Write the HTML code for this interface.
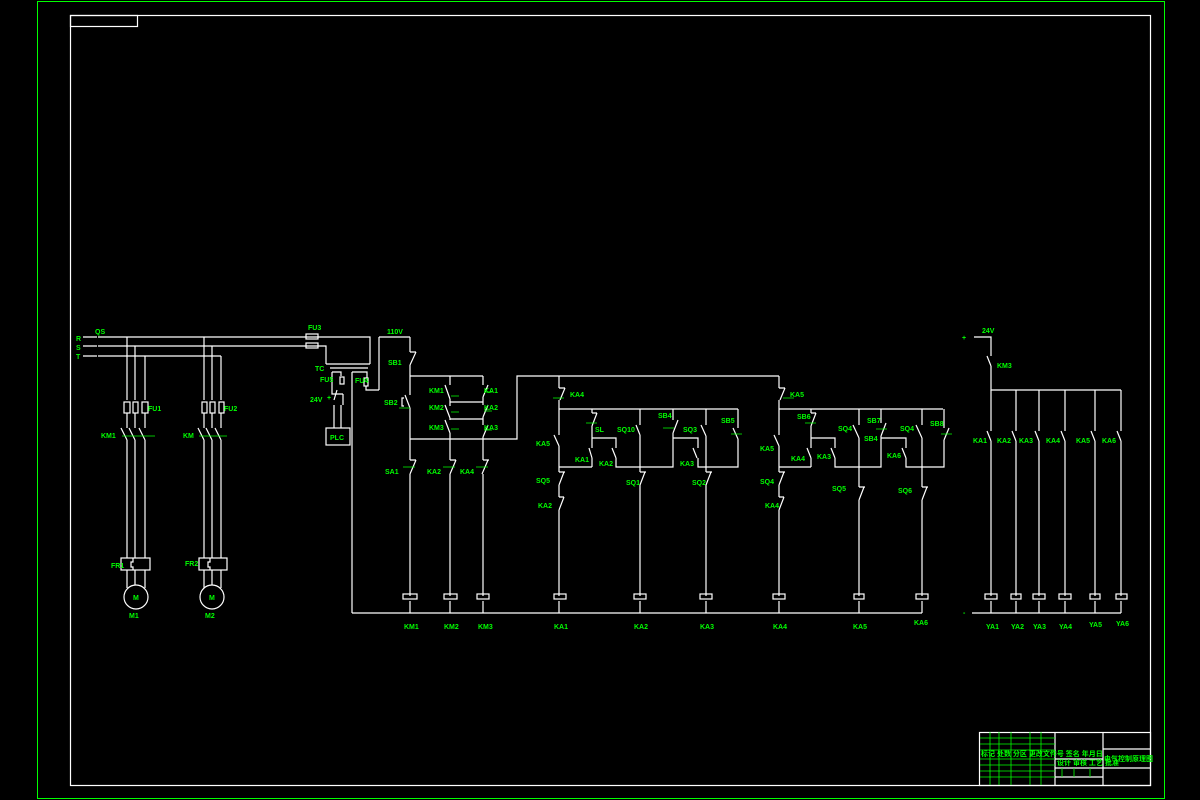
<!DOCTYPE html>
<html><head><meta charset="utf-8"><style>
html,body{margin:0;padding:0;background:#000;}
svg{display:block}
text{font-family:"Liberation Sans","Noto Sans CJK SC",sans-serif;fill:#00ff00;font-weight:bold;font-size:7px}
</style></head><body>
<svg width="1200" height="800" viewBox="0 0 1200 800" xmlns="http://www.w3.org/2000/svg">
<rect width="1200" height="800" fill="#000"/>
<rect x="37.5" y="1.5" width="1127" height="797" fill="none" stroke="#00ff00" stroke-width="1"/>
<g stroke="#fff" stroke-width="1.2" fill="none">
<rect x="70.5" y="15.5" width="1080" height="770"/>
<rect x="70.5" y="15.5" width="67" height="11"/>
<path d="M98 337H370V364 M98 346H326V364 M98 356H221"/>
<path d="M83 337h14 M83 346h14 M83 356h14"/>
<rect x="306" y="334" width="12" height="5"/><rect x="306" y="343" width="12" height="5"/>
<path d="M127 337V400 M135 346V400 M145 356V400"/>
<rect x="124" y="402" width="6" height="11"/><rect x="133" y="402" width="5" height="11"/><rect x="142" y="402" width="6" height="11"/>
<path d="M127 413V428 M135 413V428 M145 413V428 M121 428l6 12 M129 428l6 12 M139 428l6 12 M127 440V558 M135 440V558 M145 440V558"/>
<rect x="121" y="558" width="29" height="12"/>
<path d="M133 558v4h-2v5h2v3"/>
<path d="M127 570V588 M135 570V585 M145 570V588"/>
<circle cx="136" cy="597" r="12"/>
<path d="M204 337V400 M212 346V400 M221 356V400"/>
<rect x="202" y="402" width="5" height="11"/><rect x="210" y="402" width="5" height="11"/><rect x="219" y="402" width="5" height="11"/>
<path d="M204 413V428 M212 413V428 M221 413V428 M198 428l6 12 M206 428l6 12 M215 428l6 12 M204 440V558 M212 440V558 M221 440V558"/>
<rect x="199" y="558" width="28" height="12"/>
<path d="M210 558v4h-2v5h2v3"/>
<path d="M204 570V588 M212 570V585 M221 570V588"/>
<circle cx="212" cy="597" r="12"/>
<path d="M326 364H370 M330 368H368 M332 372H341V376 M352 372H367V378 M332 372V394H343"/>
<rect x="340" y="377" width="4" height="7"/><rect x="364" y="378" width="4" height="8"/>
<path d="M366 386V390H379 M352 372V613 M379 337H410"/>
<path d="M379 337V390"/>
<rect x="326" y="428" width="24" height="17"/>
<path d="M334 405V428 M341 405V428 M337 390l-3 10 M343 394V405"/>
<path d="M410 337V352 M416 352l-6 13 M410 352h6 M410 365V395 M405 395l5 13 M410 408V460 M416 460l-6 14 M410 460h6 M410 474V596 M410 601V613"/>
<path d="M404 398h-2v8h2"/>
<path d="M410 376H483 M410 439H517V376H779"/>
<path d="M450 376V385 M445 385l5 14 M450 399V406 M450 402H483 M445 405l5 13 M450 418V420 M450 419H483 M445 420l5 13 M450 433V460 M456 460l-6 14 M450 460h6 M450 474V596 M450 601V613"/>
<path d="M483 376V385 M488 385l-5 12 M483 397V405 M488 405l-5 12 M483 417V425 M488 425l-5 12 M483 437V460 M488 460l-6 14 M483 460h6 M483 474V596 M483 601V613"/>
<rect x="403" y="594" width="14" height="5"/><rect x="444" y="594" width="13" height="5"/><rect x="477" y="594" width="12" height="5"/>
<path d="M352 613H922"/>
<path d="M559 376V388 M565 388l-5 12 M559 388h6 M559 400V435 M554 435l5 11 M559 446V472 M564 472l-5 13 M559 472h6 M559 485V497 M564 497l-5 13 M559 497h5 M559 510V596 M559 601V613"/>
<path d="M559 409H738 M559 467H592 M592 409V413 M597 413l-5 13 M592 413h5 M592 426V448 M589 448l3 10 M592 458V467 M592 438H616V448 M612 448l4 10 M616 458V467H640"/>
<path d="M640 409V425 M636 425l4 10 M640 435V472 M645 472l-5 13 M640 472h6 M640 485V596 M640 601V613"/>
<path d="M673 409V420 M678 420l-5 13 M673 433V467H640 M673 438H698V448 M693 448l4 10 M698 458V467H706"/>
<path d="M706 409V425 M701 425l5 11 M706 436V472 M711 472l-5 13 M706 472h6 M706 485V596 M706 601V613"/>
<path d="M738 409V428 M733 428l5 11 M738 439V467H706"/>
<rect x="554" y="594" width="12" height="5"/><rect x="634" y="594" width="12" height="5"/><rect x="700" y="594" width="12" height="5"/>
<path d="M779 376V388 M785 388l-5 12 M779 388h6 M779 400V435 M774 435l5 11 M779 446V472 M784 472l-5 13 M779 472h6 M779 485V497 M784 497l-5 13 M779 497h5 M779 510V596 M779 601V613"/>
<path d="M779 409H943 M779 467H811 M811 409V413 M816 413l-5 13 M811 413h5 M811 426V448 M807 448l4 10 M811 458V467 M811 438H835V448 M831 448l4 10 M835 458V467H859"/>
<path d="M859 409V425 M853 425l6 13 M859 438V487 M864 487l-5 13 M859 487h6 M859 500V596 M859 601V613"/>
<path d="M881 409V423 M886 423l-5 13 M881 438H906V448 M902 448l4 10 M906 458V467H922 M881 436V467H859"/>
<path d="M922 409V425 M916 425l6 13 M922 438V487 M927 487l-5 13 M922 487h6 M922 500V596 M922 601V613"/>
<path d="M944 409V428 M949 428l-5 12 M944 440V467H922"/>
<rect x="773" y="594" width="12" height="5"/><rect x="854" y="594" width="10" height="5"/><rect x="916" y="594" width="12" height="5"/>
<path d="M974 337H991V356 M987 356l4 10 M991 366V390H1121"/>
<path d="M991 390V431 M987 431l4 10 M991 441V596 M991 601V613 M1016 390V431 M1012 431l4 10 M1016 441V596 M1016 601V613 M1039 390V431 M1035 431l4 10 M1039 441V596 M1039 601V613 M1065 390V431 M1061 431l4 10 M1065 441V596 M1065 601V613 M1095 390V431 M1091 431l4 10 M1095 441V596 M1095 601V613 M1121 390V431 M1117 431l4 10 M1121 441V596 M1121 601V613"/>
<rect x="985" y="594" width="12" height="5"/><rect x="1011" y="594" width="10" height="5"/><rect x="1033" y="594" width="12" height="5"/><rect x="1059" y="594" width="12" height="5"/><rect x="1090" y="594" width="10" height="5"/><rect x="1116" y="594" width="11" height="5"/>
<path d="M972 613H1121"/>
<rect x="979.5" y="732.5" width="171" height="53"/>
<path d="M1055 732V785 M1103 732V785 M1103 749H1150 M1103 768H1150 M1055 759H1103 M1055 768H1103 M1055 777H1103"/>
</g>
<g stroke="#00ff00" stroke-width="0.8" fill="none">
<path d="M980 738H1055 M980 744H1055 M980 750H1055 M980 759H1055 M980 765H1055 M980 771H1055 M980 777H1055 M990 732V785 M999 732V785 M1011 732V785 M1030 732V785 M1041 732V785 M1062 768V777 M1074 768V777 M1090 768V777"/>
<path d="M399 408h11 M451 396h8 M451 412h8 M451 429h8 M484 392h8 M484 411h8 M484 430h8 M403 467h12 M443 467h12 M476 467h12 M122 436h33 M199 436h28 M553 398h11 M586 423h11 M663 428h11 M731 434h11 M783 398h11 M805 423h11 M876 429h11 M941 434h11"/>
</g>
<g>
<text x="76" y="341">R</text><text x="76" y="350">S</text><text x="76" y="359">T</text><text x="95" y="334">QS</text>
<text x="148" y="411">FU1</text><text x="224" y="411">FU2</text>
<text x="101" y="438">KM1</text><text x="183" y="438">KM</text>
<text x="111" y="568">FR1</text><text x="185" y="566">FR2</text>
<text x="133" y="600">M</text><text x="209" y="600">M</text>
<text x="129" y="618" font-size="5">M1</text><text x="205" y="618" font-size="5">M2</text>
<text x="308" y="330">FU3</text><text x="387" y="334">110V</text>
<text x="315" y="371">TC</text><text x="320" y="382" font-size="5">FU5</text><text x="355" y="383" font-size="5">FU4</text>
<text x="310" y="402">24V</text><text x="327" y="400">+</text><text x="330" y="440">PLC</text>
<text x="388" y="365">SB1</text><text x="384" y="405">SB2</text>
<text x="429" y="393">KM1</text><text x="429" y="410">KM2</text><text x="429" y="430">KM3</text>
<text x="484" y="393">KA1</text><text x="484" y="410">KA2</text><text x="484" y="430">KA3</text>
<text x="385" y="474">SA1</text><text x="427" y="474">KA2</text><text x="460" y="474">KA4</text>
<text x="404" y="629">KM1</text><text x="444" y="629">KM2</text><text x="478" y="629">KM3</text>
<text x="570" y="397">KA4</text><text x="536" y="446">KA5</text><text x="595" y="432">SL</text>
<text x="575" y="462">KA1</text><text x="599" y="466">KA2</text><text x="617" y="432">SQ10</text>
<text x="658" y="418">SB4</text><text x="683" y="432">SQ3</text><text x="680" y="466">KA3</text><text x="721" y="423">SB5</text>
<text x="536" y="483">SQ5</text><text x="626" y="485">SQ1</text><text x="692" y="485">SQ2</text><text x="538" y="508">KA2</text>
<text x="554" y="629">KA1</text><text x="634" y="629">KA2</text><text x="700" y="629">KA3</text>
<text x="790" y="397">KA5</text><text x="760" y="451">KA5</text><text x="797" y="419">SB6</text>
<text x="791" y="461">KA4</text><text x="817" y="459">KA3</text><text x="838" y="431">SQ4</text>
<text x="867" y="423">SB7</text><text x="864" y="441">SB4</text><text x="887" y="458">KA6</text>
<text x="900" y="431">SQ4</text><text x="930" y="426">SB8</text>
<text x="760" y="484">SQ4</text><text x="765" y="508">KA4</text>
<text x="832" y="491" font-size="9">SQ5</text><text x="898" y="493" font-size="9">SQ6</text>
<text x="773" y="629">KA4</text><text x="853" y="629">KA5</text><text x="914" y="625">KA6</text>
<text x="962" y="340">+</text><text x="982" y="333">24V</text><text x="997" y="368">KM3</text>
<text x="973" y="443">KA1</text><text x="997" y="443">KA2</text><text x="1019" y="443">KA3</text><text x="1046" y="443">KA4</text><text x="1076" y="443">KA5</text><text x="1102" y="443">KA6</text>
<text x="963" y="615">-</text>
<text x="986" y="629">YA1</text><text x="1011" y="629">YA2</text><text x="1033" y="629">YA3</text><text x="1059" y="629">YA4</text><text x="1089" y="627">YA5</text><text x="1116" y="626">YA6</text>
<text x="1104" y="761" font-size="6">电气控制原理图</text>
<text x="1057" y="765" font-size="3.5">设计 审核 工艺 批准</text>
<text x="981" y="756" font-size="3.5">标记 处数 分区 更改文件号 签名 年月日</text>
</g>
</svg>
</body></html>
